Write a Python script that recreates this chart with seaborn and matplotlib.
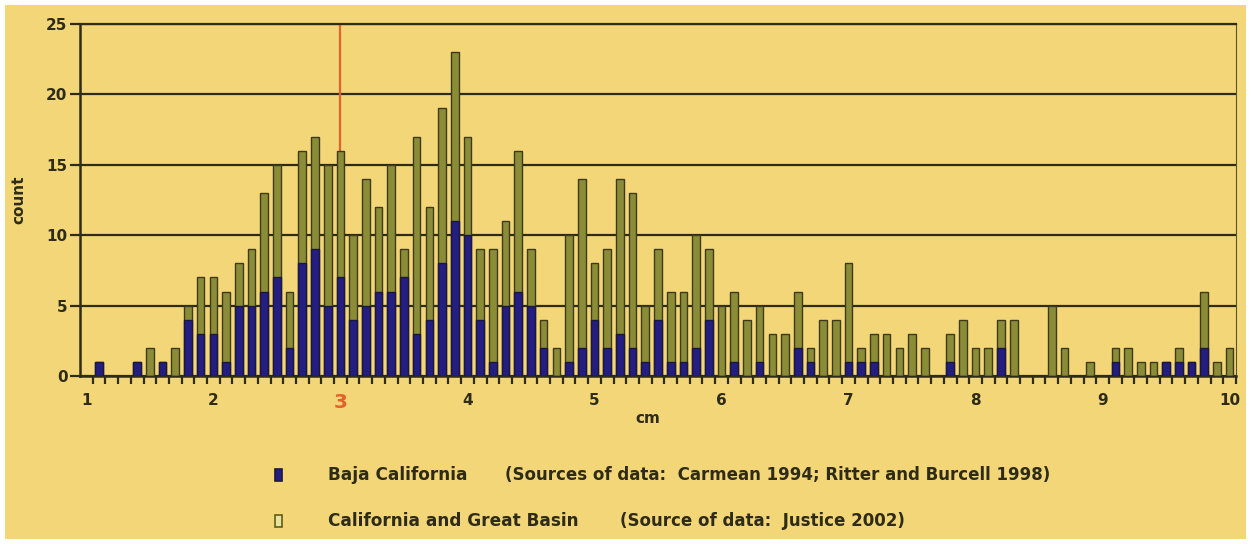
import numpy as np
import pandas as pd
import seaborn as sns
import matplotlib.pyplot as plt
from matplotlib.patches import Rectangle
from matplotlib.ticker import FixedLocator

# bins of 0.1 cm from 1.0 to 10.0
cm_bins = [f"{v:.1f}" for v in np.round(np.arange(1.0, 10.01, 0.1), 1)]

# Baja California counts per bin
baja = [0, 1, 0, 0, 1, 0, 1, 0, 4, 3,
        3, 1, 5, 5, 6, 7, 2, 8, 9, 5,
        7, 4, 5, 6, 6, 7, 3, 4, 8, 11,
        10, 4, 1, 5, 6, 5, 2, 0, 1, 2,
        4, 2, 3, 2, 1, 4, 1, 1, 2, 4,
        0, 1, 0, 1, 0, 0, 2, 1, 0, 0,
        1, 1, 1, 0, 0, 0, 0, 0, 1, 0,
        0, 0, 2, 0, 0, 0, 0, 0, 0, 0,
        0, 1, 0, 0, 0, 1, 1, 1, 2, 0,
        0]

# California and Great Basin counts per bin
calif = [0, 0, 0, 0, 0, 2, 0, 2, 1, 4,
         4, 5, 3, 4, 7, 8, 4, 8, 8, 10,
         9, 6, 9, 6, 9, 2, 14, 8, 11, 12,
         7, 5, 8, 6, 10, 4, 2, 2, 9, 12,
         4, 7, 11, 11, 4, 5, 5, 5, 8, 5,
         5, 5, 4, 4, 3, 3, 4, 1, 4, 4,
         7, 1, 2, 3, 2, 3, 2, 0, 2, 4,
         2, 2, 2, 4, 0, 0, 5, 2, 0, 1,
         0, 1, 2, 1, 1, 0, 1, 0, 4, 1,
         2]

tick_labels = ["1", "2", "3", "4", "5", "6", "7", "8", "9", "10"]

df = pd.DataFrame({"cm": cm_bins, "baja": baja, "calif": calif})
df["total"] = df["baja"] + df["calif"]

bg = "#f3d677"
dark = "#2e2c18"
green = "#8a8c38"
blue = "#231e80"
red = "#e4602c"

sns.set_style("white", {"axes.facecolor": bg, "figure.facecolor": bg})
plt.rcParams["font.family"] = ["DejaVu Sans"]
plt.rcParams["font.weight"] = "bold"

fig = plt.figure(figsize=(12.51, 5.44), dpi=100)
fig.patch.set_facecolor(bg)
fig.patch.set_edgecolor("white")
fig.patch.set_linewidth(7)
ax = fig.add_axes([80 / 1251, 1 - 376 / 544, (1236 - 80) / 1251, (376 - 24) / 544])

# stacked bars: total (green) first, Baja (blue) on top
sns.barplot(data=df, x="cm", y="total", color=green, saturation=1,
            width=0.6, edgecolor="#3d3b1c", linewidth=1.0, ax=ax, zorder=3)
sns.barplot(data=df, x="cm", y="baja", color=blue, saturation=1,
            width=0.6, edgecolor="#1a1740", linewidth=1.0, ax=ax, zorder=4)

i3 = cm_bins.index("3.0")
ax.vlines(i3, 0, 25, color=red, lw=1.6, zorder=2)

ax.set_xlim(-0.5, len(cm_bins) - 0.5)
ax.set_ylim(0, 25)
ax.set_yticks(range(0, 26, 5))
ax.yaxis.grid(True, color=dark, lw=1.6)
ax.set_axisbelow(True)

major_pos = [cm_bins.index(f"{float(t):.1f}") for t in tick_labels]
ax.set_xticks(major_pos)
ax.set_xticklabels(tick_labels)
ax.xaxis.set_minor_locator(FixedLocator(np.arange(len(cm_bins)) + 0.5))
ax.tick_params(axis="x", which="major", length=0, pad=12, labelsize=11,
               labelcolor=dark)
ax.tick_params(axis="x", which="minor", length=6, width=1.6, color=dark,
               direction="out", bottom=True)
ax.tick_params(axis="y", length=7, width=1.6, color=dark, left=True,
               labelsize=11, labelcolor=dark, pad=2)
lab3 = ax.get_xticklabels()[2]
lab3.set_color(red)
lab3.set_fontsize(14.5)

for s in ["left", "bottom"]:
    ax.spines[s].set_color(dark)
    ax.spines[s].set_linewidth(1.8)
ax.spines["top"].set_color(dark)
ax.spines["top"].set_linewidth(1.6)
ax.spines["right"].set_color("#5a5530")
ax.spines["right"].set_linewidth(0.8)

ax.set_xlabel("cm", fontsize=11, fontweight="bold", color=dark, labelpad=2)
ax.xaxis.set_label_coords((648 - 80) / (1236 - 80), -0.1)
ax.set_ylabel("count", fontsize=11, fontweight="bold", color=dark, labelpad=14)

# legend rows
rows = [
    (475, blue, "#1a1740", "Baja California",
     "(Sources of data:  Carmean 1994; Ritter and Burcell 1998)", 505),
    (521, "#e9e49a", "#5e5e1a", "California and Great Basin",
     "(Source of data:  Justice 2002)", 620),
]
for y, fc, ec, name, src, xsrc in rows:
    fig.patches.append(Rectangle((275 / 1251, 1 - (y + 6) / 544), 7 / 1251, 12 / 544,
                                 transform=fig.transFigure, facecolor=fc,
                                 edgecolor=ec, lw=1.2))
    fig.text(328 / 1251, 1 - y / 544, name, fontsize=12.2, fontweight="bold",
             color=dark, va="center", ha="left")
    fig.text(xsrc / 1251, 1 - y / 544, src, fontsize=12, fontweight="bold",
             color=dark, va="center", ha="left")

fig.savefig("out.png", dpi=100, facecolor=fig.get_facecolor(),
            edgecolor=fig.get_edgecolor())
